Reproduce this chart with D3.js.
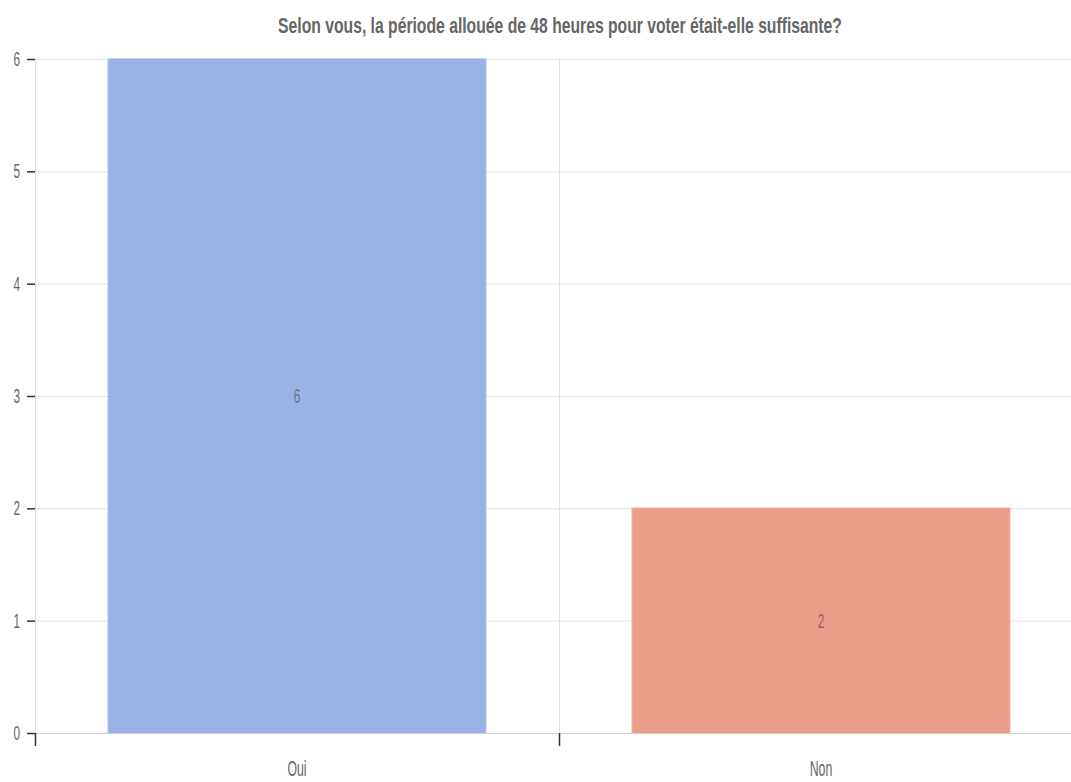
<!DOCTYPE html>
<html><head><meta charset="utf-8">
<script src="https://cdn.jsdelivr.net/npm/d3@7"></script>
<style>
html,body{margin:0;padding:0;background:#fff;overflow:hidden;}
svg{display:block;font-family:"Liberation Sans",Arial,sans-serif;}
</style></head>
<body>
<script>
const title = "Selon vous, la période allouée de 48 heures pour voter était-elle suffisante?";
const categories = ["Oui", "Non"];
const values = [6, 2];
const colors = ["#98b1e3", "#eb9a86"];
const yTicks = [0, 1, 2, 3, 4, 5, 6];

const W = 1071, H = 782;
const margin = {left: 35, top: 59, bottom: 49};
const svg = d3.select("body").append("svg").attr("width", W).attr("height", H);

const x = d3.scaleBand().domain(categories).range([margin.left, margin.left + 2 * 524]).paddingInner(0.28).paddingOuter(0.14);
const y = d3.scaleLinear().domain([0, 6]).range([H - margin.bottom, margin.top]);

const K = 0.56; // horizontal text compression

// gridlines
svg.append("g").selectAll("line").data(yTicks).join("line")
  .attr("x1", margin.left).attr("x2", W)
  .attr("y1", d => y(d) + 0.5).attr("y2", d => y(d) + 0.5)
  .attr("stroke", "#e3e3e3").attr("stroke-width", 1);
// vertical category boundary grid
svg.append("line").attr("x1", margin.left + 524 + 0.5).attr("x2", margin.left + 524 + 0.5)
  .attr("y1", margin.top).attr("y2", H - margin.bottom).attr("stroke", "#e3e3e3");
// y axis line
svg.append("line").attr("x1", margin.left + 0.5).attr("x2", margin.left + 0.5)
  .attr("y1", margin.top).attr("y2", H - margin.bottom).attr("stroke", "#dcdcdc");

// bars
svg.append("g").selectAll("rect").data(categories).join("rect")
  .attr("x", d => x(d)).attr("width", x.bandwidth())
  .attr("y", (d, i) => y(values[i])).attr("height", (d, i) => y(0) - y(values[i]))
  .attr("fill", (d, i) => colors[i]).attr("fill-opacity", 0.97)
  .attr("stroke", (d, i) => colors[i]).attr("stroke-opacity", 0.6).attr("stroke-width", 2);

// value labels
svg.append("g").selectAll("text").data(categories).join("text")
  .attr("transform", (d, i) => `translate(${x(d) + x.bandwidth() / 2},${(y(values[i]) + y(0)) / 2 + 7}) scale(${K},1)`)
  .attr("text-anchor", "middle").attr("font-size", 21).attr("fill", "#333").attr("fill-opacity", 0.55)
  .text((d, i) => values[i]);

// x baseline
svg.append("line").attr("x1", margin.left).attr("x2", W)
  .attr("y1", y(0) + 0.5).attr("y2", y(0) + 0.5).attr("stroke", "#d0d0d0");

// y ticks
const yg = svg.append("g");
yg.selectAll("line").data(yTicks).join("line")
  .attr("x1", margin.left - 8).attr("x2", margin.left)
  .attr("y1", d => y(d) + 0.5).attr("y2", d => y(d) + 0.5).attr("stroke", "#333").attr("stroke-width", 1.5);
yg.selectAll("text").data(yTicks).join("text")
  .attr("transform", d => `translate(${margin.left - 15},${y(d) + 7}) scale(${K},1)`)
  .attr("text-anchor", "end").attr("font-size", 21).attr("fill", "#666").text(d => d);

// x ticks at band boundaries
const xb = [margin.left, margin.left + 524];
svg.append("g").selectAll("line").data(xb).join("line")
  .attr("x1", d => d + 0.5).attr("x2", d => d + 0.5)
  .attr("y1", y(0)).attr("y2", y(0) + 13).attr("stroke", "#333").attr("stroke-width", 1.5);
svg.append("g").selectAll("text").data(categories).join("text")
  .attr("transform", d => `translate(${x(d) + x.bandwidth() / 2},${y(0) + 43}) scale(${K},1)`)
  .attr("text-anchor", "middle").attr("font-size", 22).attr("fill", "#666").text(d => d);

// title
const t = svg.append("text")
  .attr("text-anchor", "middle").attr("font-size", 22).attr("font-weight", "bold").attr("fill", "#666")
  .text(title);
const len = t.node().getComputedTextLength();
const tk = 564 / len;
t.attr("transform", `translate(560,33) scale(${tk},1)`);
</script>
</body></html>
